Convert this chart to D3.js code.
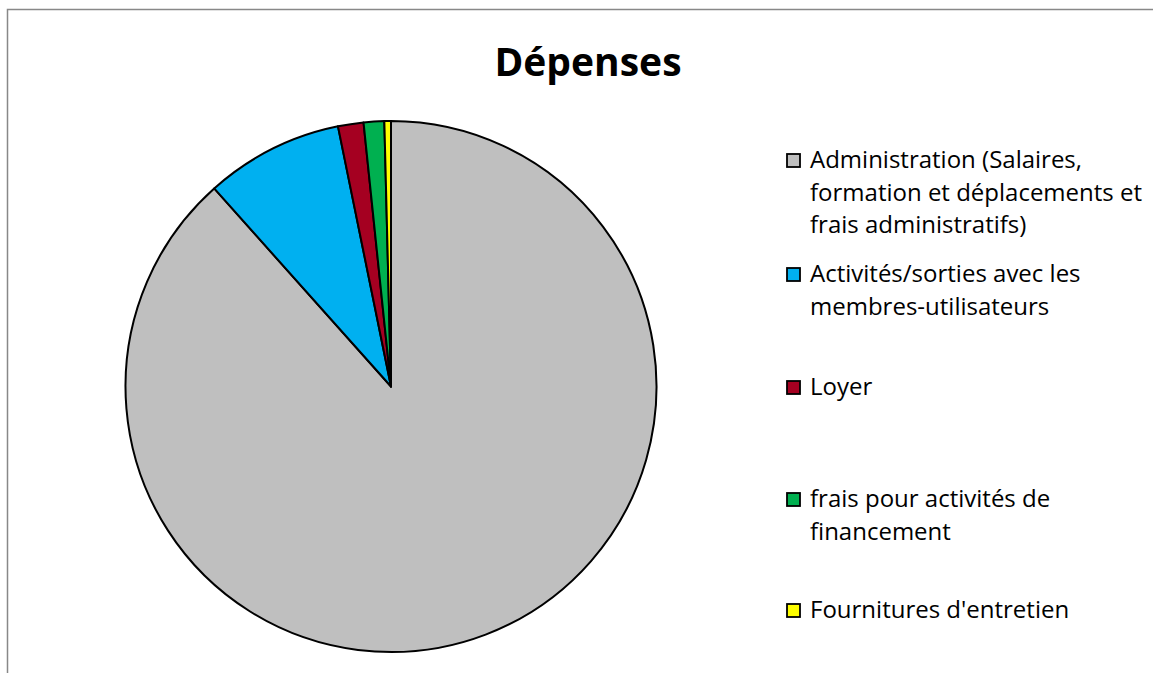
<!DOCTYPE html>
<html>
<head>
<meta charset="utf-8">
<script src="https://cdn.jsdelivr.net/npm/d3@7"></script>
<style>
  body { margin: 0; background: #fff; }
  svg { display: block; font-family: "Open Sans", sans-serif; }
</style>
</head>
<body>
<script>
const w = 1153, h = 673;

// expense categories (legend lines split as in the original)
const categories = [
  "Administration (Salaires, formation et déplacements et frais administratifs)",
  "Activités/sorties avec les membres-utilisateurs",
  "Loyer",
  "frais pour activités de financement",
  "Fournitures d'entretien"
];
const legendLines = [
  ["Administration (Salaires,", "formation et déplacements et", "frais administratifs)"],
  ["Activités/sorties avec les", "membres-utilisateurs"],
  ["Loyer"],
  ["frais pour activités de", "financement"],
  ["Fournitures d'entretien"]
];
// share of expenses, %
const values = [88.4, 8.4, 1.55, 1.25, 0.4];
const colors = ["#BFBFBF", "#00B0F0", "#A50021", "#00B050", "#FFFF00"];

const svg = d3.select("body").append("svg")
  .attr("width", w)
  .attr("height", h);

// chart area border (runs off the right and bottom)
svg.append("rect")
  .attr("x", 7.5).attr("y", 9.5)
  .attr("width", w + 10).attr("height", h + 10)
  .attr("fill", "none")
  .attr("stroke", "#888")
  .attr("stroke-width", 1.5);

svg.append("text")
  .attr("x", 588).attr("y", 76)
  .attr("text-anchor", "middle")
  .attr("font-size", 39)
  .attr("font-weight", "bold")
  .attr("fill", "#000")
  .text("Dépenses");

const cx = 391, cy = 386.5, r = 265.5;

const pie = d3.pie().sort(null).value(d => d);
const arc = d3.arc().innerRadius(0).outerRadius(r);

// Excel draws the first slice clockwise from 12 o'clock
svg.append("g")
  .attr("transform", `translate(${cx},${cy})`)
  .selectAll("path")
  .data(pie(values))
  .enter()
  .append("path")
  .attr("d", arc)
  .attr("fill", (d, i) => colors[i])
  .attr("stroke", "#000")
  .attr("stroke-width", 2)
  .attr("stroke-linejoin", "round");

// legend
const legendY = [168, 282, 395, 507, 618];
const lineGap = 32.5;
const lg = svg.append("g");
categories.forEach(function(c, i) {
  const g = lg.append("g");
  g.append("rect")
    .attr("x", 787).attr("y", legendY[i] - 14)
    .attr("width", 13).attr("height", 13)
    .attr("fill", colors[i])
    .attr("stroke", "#000")
    .attr("stroke-width", 1.8);
  g.append("text")
    .attr("x", 810).attr("y", legendY[i])
    .attr("font-size", 24)
    .attr("fill", "#000")
    .selectAll("tspan")
    .data(legendLines[i])
    .enter()
    .append("tspan")
    .attr("x", 810)
    .attr("dy", (d, j) => j === 0 ? 0 : lineGap)
    .text(d => d);
});
</script>
</body>
</html>
